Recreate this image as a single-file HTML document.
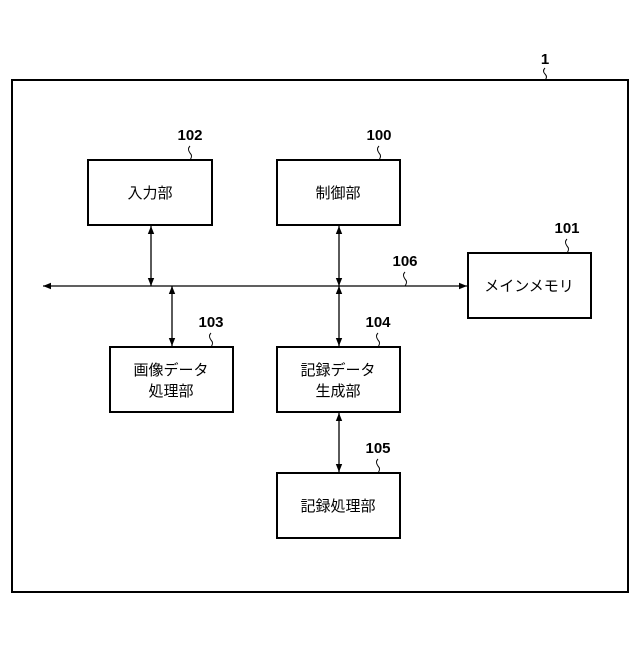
<!DOCTYPE html>
<html><head><meta charset="utf-8"><style>
html,body{margin:0;padding:0;background:#fff}
svg text{font-family:"Liberation Sans","Noto Sans CJK JP",sans-serif;fill:#000}
.n{font-weight:bold;font-size:15px}
.j{font-size:15px}
</style></head><body>
<svg width="640" height="640" viewBox="0 0 640 640" xmlns="http://www.w3.org/2000/svg">
<defs>
<marker id="a" viewBox="0 0 10 10" refX="10" refY="5" markerWidth="10" markerHeight="8" markerUnits="userSpaceOnUse" orient="auto-start-reverse"><path d="M0,1 L10,5 L0,9 z" fill="#000"/></marker>
</defs>
<g fill="none" stroke="#000">
<rect x="12" y="80" width="616" height="512" stroke-width="2"/>
<rect x="88" y="160" width="124" height="65" stroke-width="2"/>
<rect x="277" y="160" width="123" height="65" stroke-width="2"/>
<rect x="468" y="253" width="123" height="65" stroke-width="2"/>
<rect x="110" y="347" width="123" height="65" stroke-width="2"/>
<rect x="277" y="347" width="123" height="65" stroke-width="2"/>
<rect x="277" y="473" width="123" height="65" stroke-width="2"/>
<g stroke-width="1.3">
<line x1="43" y1="286" x2="467" y2="286" marker-start="url(#a)" marker-end="url(#a)"/>
<line x1="151" y1="226" x2="151" y2="286" marker-start="url(#a)" marker-end="url(#a)"/>
<line x1="339" y1="226" x2="339" y2="286" marker-start="url(#a)" marker-end="url(#a)"/>
<line x1="172" y1="286" x2="172" y2="346" marker-start="url(#a)" marker-end="url(#a)"/>
<line x1="339" y1="286" x2="339" y2="346" marker-start="url(#a)" marker-end="url(#a)"/>
<line x1="339" y1="413" x2="339" y2="472" marker-start="url(#a)" marker-end="url(#a)"/>
</g>
<g stroke-width="1">
<path d="M545,68 q-3,3 0,6 q3,3 0,6"/>
<path d="M190,146 q-3,3 0,7 q3,3 0,7"/>
<path d="M379,146 q-3,3 0,7 q3,3 0,7"/>
<path d="M567,239 q-3,3 0,7 q3,3 0,7"/>
<path d="M405,272 q-3,3 0,7 q3,3 0,7"/>
<path d="M211,333 q-3,3 0,7 q3,3 0,7"/>
<path d="M378,333 q-3,3 0,7 q3,3 0,7"/>
<path d="M378,459 q-3,3 0,7 q3,3 0,7"/>
</g>
</g>
<text class="n" x="545" y="64" text-anchor="middle">1</text>
<text class="n" x="190" y="140" text-anchor="middle">102</text>
<text class="n" x="379" y="140" text-anchor="middle">100</text>
<text class="n" x="567" y="233" text-anchor="middle">101</text>
<text class="n" x="405" y="266" text-anchor="middle">106</text>
<text class="n" x="211" y="327" text-anchor="middle">103</text>
<text class="n" x="378" y="327" text-anchor="middle">104</text>
<text class="n" x="378" y="453" text-anchor="middle">105</text>
<text class="j" x="150" y="198" text-anchor="middle">入力部</text>
<text class="j" x="338" y="198" text-anchor="middle">制御部</text>
<text class="j" x="529" y="291" text-anchor="middle">メインメモリ</text>
<text class="j" x="171" y="375" text-anchor="middle">画像データ</text>
<text class="j" x="171" y="396" text-anchor="middle">処理部</text>
<text class="j" x="338" y="375" text-anchor="middle">記録データ</text>
<text class="j" x="338" y="396" text-anchor="middle">生成部</text>
<text class="j" x="338" y="511" text-anchor="middle">記録処理部</text>
</svg>
</body></html>
